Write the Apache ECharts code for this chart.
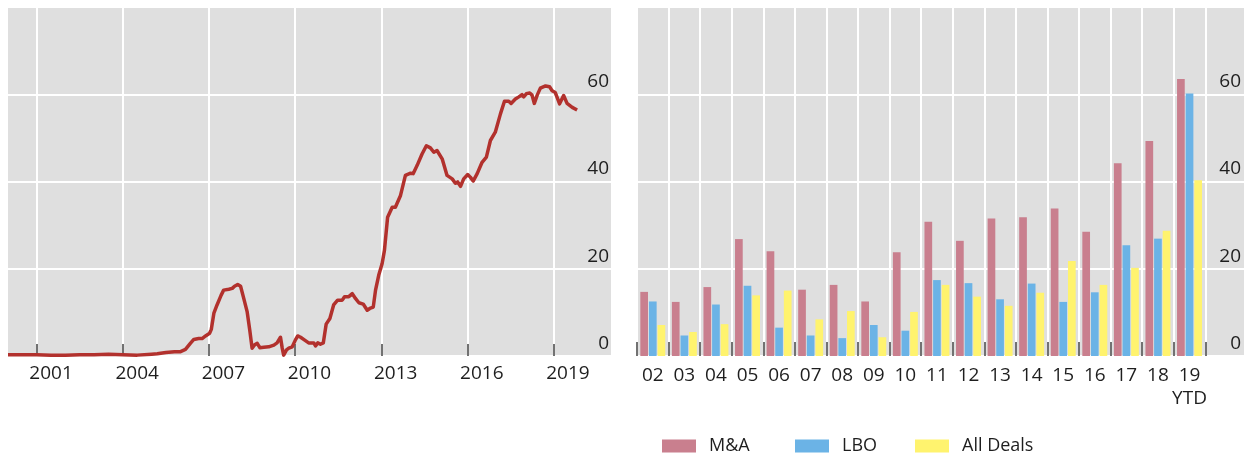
<!DOCTYPE html>
<html><head><meta charset="utf-8">
<script src="https://cdn.jsdelivr.net/npm/echarts@6.0.0/dist/echarts.min.js"></script>
<style>html,body{margin:0;padding:0;background:#fff}#c{width:1246px;height:454px}</style>
</head><body><div id="c"></div>
<script>
// ---- Left panel: line series (decimal years, value) ----
const lineYears = [
  2000.0, 2000.5, 2001.0, 2001.5, 2002.0, 2002.5, 2003.0, 2003.5, 2004.0, 2004.5, 2005.0, 2005.2, 2005.5, 2005.8,
  2006.01, 2006.18, 2006.35, 2006.47, 2006.64, 2006.76, 2006.88,
  2007.02, 2007.08, 2007.17, 2007.28, 2007.42, 2007.51, 2007.69, 2007.81, 2007.89,
  2008.00, 2008.10, 2008.21, 2008.33, 2008.42, 2008.50, 2008.58, 2008.68, 2008.77, 2008.91,
  2009.08, 2009.26, 2009.37, 2009.49, 2009.55, 2009.60, 2009.70, 2009.78, 2009.90,
  2010.01, 2010.09, 2010.19, 2010.32, 2010.47, 2010.65, 2010.71, 2010.79, 2010.88, 2010.98,
  2011.08, 2011.21, 2011.34, 2011.48, 2011.64, 2011.72, 2011.87, 2011.99,
  2012.10, 2012.22, 2012.37, 2012.51, 2012.60, 2012.72, 2012.80, 2012.91,
  2013.03, 2013.11, 2013.22, 2013.38, 2013.49, 2013.67, 2013.84,
  2014.02, 2014.11, 2014.25, 2014.42, 2014.57, 2014.71, 2014.83, 2014.94,
  2015.12, 2015.29, 2015.47, 2015.58, 2015.66, 2015.76, 2015.87,
  2016.01, 2016.10, 2016.20, 2016.34, 2016.51, 2016.66, 2016.80, 2016.97,
  2017.15, 2017.29, 2017.44, 2017.52, 2017.67, 2017.79, 2017.90, 2017.96,
  2018.05, 2018.17, 2018.25, 2018.33, 2018.43, 2018.54, 2018.72, 2018.86, 2018.95,
  2019.06, 2019.21, 2019.35, 2019.47, 2019.65, 2019.82
];
const lineValues = [
  0.3, 0.3, 0.3, 0.2, 0.2, 0.3, 0.3, 0.4, 0.3, 0.2, 0.4, 0.5, 0.8, 1.0,
  1.0, 1.5, 2.9, 3.8, 4.0, 4.0, 4.6,
  5.2, 6.1, 9.8, 11.7, 13.9, 15.1, 15.3, 15.5, 16.0,
  16.4, 16.0, 13.2, 10.1, 5.9, 1.8, 2.5, 2.9, 1.9, 2.0,
  2.1, 2.5, 3.0, 4.3, 1.8, 0.2, 1.4, 1.8, 2.1,
  3.7, 4.6, 4.3, 3.7, 3.0, 3.0, 2.3, 3.0, 2.7, 3.0,
  7.3, 8.6, 11.7, 12.8, 12.8, 13.6, 13.6, 14.3,
  13.2, 12.2, 11.9, 10.5, 10.9, 11.2, 15.1, 18.5,
  21.2, 24.2, 31.8, 34.1, 34.1, 36.8, 41.4,
  41.9, 41.8, 43.7, 46.3, 48.2, 47.7, 46.7, 47.1,
  45.2, 41.4, 40.6, 39.6, 39.9, 38.9, 40.6,
  41.6, 41.0, 40.1, 41.8, 44.4, 45.6, 49.4, 51.3,
  55.5, 58.4, 58.4, 57.9, 58.9, 59.4, 59.9, 59.4,
  60.1, 60.3, 59.8, 57.9, 59.8, 61.4, 61.9, 61.7, 60.8,
  60.4, 57.8, 59.7, 57.9, 57.0, 56.4
];
const yearTicks = [2001, 2004, 2007, 2010, 2013, 2016, 2019];

// ---- Right panel: bars ----
const dealCategories = ['02','03','04','05','06','07','08','09','10','11','12','13','14','15','16','17','18','19\nYTD'];
const mnaValues      = [14.7, 12.4, 15.8, 26.8, 24.0, 15.2, 16.3, 12.5, 23.8, 30.8, 26.4, 31.5, 31.8, 33.8, 28.5, 44.2, 49.3, 63.5];
const lboValues      = [12.5,  4.7, 11.8, 16.1,  6.5,  4.7,  4.1,  7.1,  5.8, 17.4, 16.7, 13.0, 16.6, 12.4, 14.6, 25.4, 26.9, 60.2];
const allDealsValues = [ 7.1,  5.5,  7.3, 13.9, 15.0,  8.4, 10.3,  4.3, 10.1, 16.3, 13.6, 11.5, 14.5, 21.8, 16.3, 20.2, 28.7, 40.3];
const seriesNames = ['M&A', 'LBO', 'All Deals'];

const FONT = "'Open Sans', 'Noto Sans', sans-serif";
const TXT = '#1e1e1e';
const BG = '#dfdfdf';
const white = { show: true, lineStyle: { color: '#ffffff', width: 2 } };

const yLabel = (margin) => ({
  inside: true, margin: margin, verticalAlign: 'bottom', padding: [0, 0, 3, 0],
  fontSize: 19, color: TXT, fontFamily: FONT, showMaxLabel: false
});

const chart = echarts.init(document.getElementById('c'), null, { renderer: 'canvas' });
chart.setOption({
  animation: false,
  backgroundColor: '#ffffff',
  grid: [
    { left: 8, right: 635, top: 7, bottom: 98, show: true, backgroundColor: BG, borderWidth: 0 },
    { left: 637, right: 2, top: 7, bottom: 98, show: true, backgroundColor: BG, borderWidth: 0 },
    { left: 637, right: 40.7, top: 7, bottom: 98, show: false }
  ],
  xAxis: [
    {
      type: 'value', gridIndex: 0, min: 2000, max: 2021,
      axisLine: { show: false },
      axisTick: { show: true, inside: true, length: 12, customValues: yearTicks, lineStyle: { color: '#444', width: 1.5 } },
      axisLabel: { customValues: yearTicks.map(y => y + 0.5), formatter: v => String(Math.floor(v)),
                   fontSize: 19, color: TXT, fontFamily: FONT, margin: 8 },
      splitLine: white
    },
    { type: 'value', gridIndex: 1, min: 0, max: 1, show: false },
    {
      type: 'category', gridIndex: 2, data: dealCategories, boundaryGap: true,
      axisLine: { show: false },
      axisTick: { show: true, inside: true, length: 14, interval: 0, lineStyle: { color: '#444', width: 1.5 } },
      axisLabel: { interval: 0, fontSize: 19, lineHeight: 23, color: TXT, fontFamily: FONT, margin: 8 },
      splitLine: { show: true, interval: 0, lineStyle: { color: '#ffffff', width: 2 } }
    }
  ],
  yAxis: [
    { type: 'value', gridIndex: 0, position: 'right', min: 0, max: 80, interval: 20,
      axisLine: { show: false }, axisTick: { show: false }, axisLabel: yLabel(2), splitLine: white },
    { type: 'value', gridIndex: 1, position: 'right', min: 0, max: 80, interval: 20,
      axisLine: { show: false }, axisTick: { show: false }, axisLabel: yLabel(3), splitLine: white },
    { type: 'value', gridIndex: 2, min: 0, max: 80, interval: 20, show: false, splitLine: { show: false } }
  ],
  legend: seriesNames.map((n, i) => ({
    data: [n], left: [662, 795, 915][i], top: 437, padding: 0,
    itemWidth: 34, itemHeight: 13, icon: 'rect',
    textStyle: { fontSize: 18, color: TXT, fontFamily: FONT, padding: [0, 0, 0, 8] }
  })),
  series: [
    {
      type: 'line', xAxisIndex: 0, yAxisIndex: 0, showSymbol: false, symbol: 'none',
      data: lineYears.map((y, i) => [y, lineValues[i]]),
      lineStyle: { color: '#b2312d', width: 3.5, join: 'round' }, z: 3
    },
    { name: seriesNames[0], type: 'bar', xAxisIndex: 2, yAxisIndex: 2, data: mnaValues,
      itemStyle: { color: '#c97f8e' }, barWidth: 7.7, barGap: '12%' },
    { name: seriesNames[1], type: 'bar', xAxisIndex: 2, yAxisIndex: 2, data: lboValues,
      itemStyle: { color: '#6bb3e6' }, barWidth: 7.7, barGap: '12%' },
    { name: seriesNames[2], type: 'bar', xAxisIndex: 2, yAxisIndex: 2, data: allDealsValues,
      itemStyle: { color: '#fff36e' }, barWidth: 7.7, barGap: '12%' }
  ]
});
</script>
</body></html>
